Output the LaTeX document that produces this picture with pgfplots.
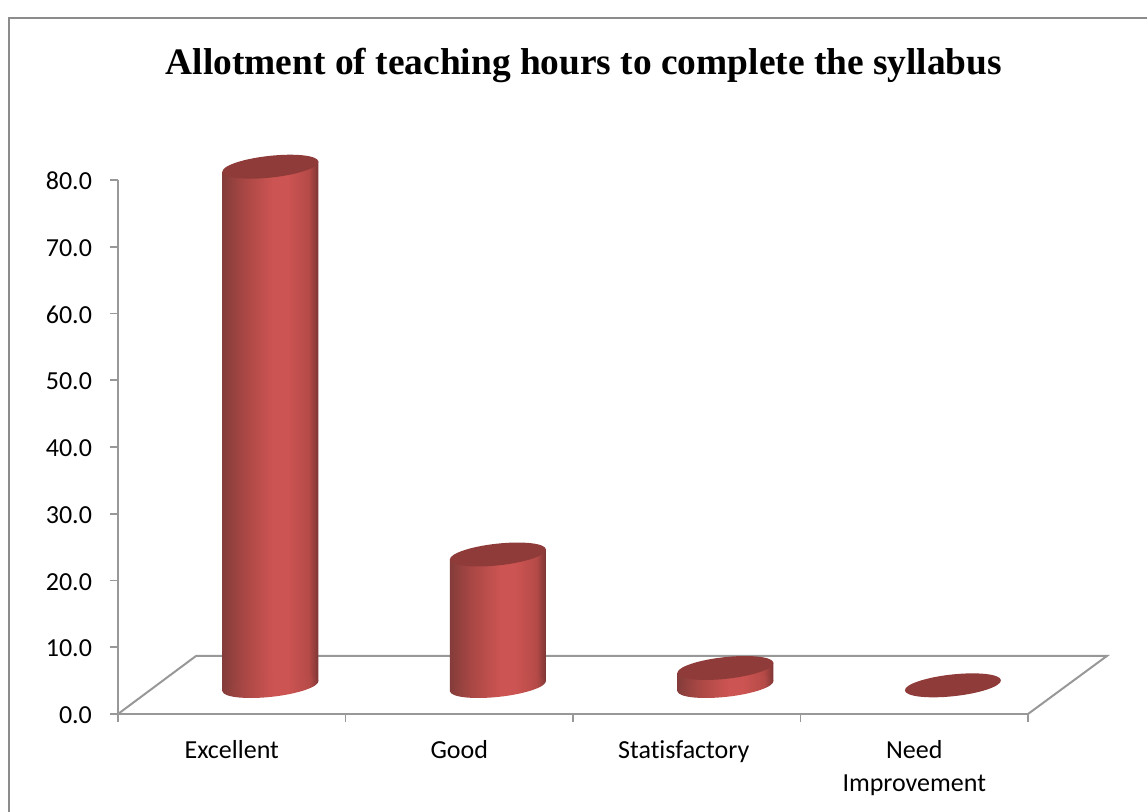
\documentclass[border=0pt]{standalone}
\usepackage{pgfplots}
\pgfplotsset{compat=1.18}
\usepackage{fontspec}
\setmainfont[Ligatures=NoCommon]{Carlito}
\newfontfamily\titlefont{Liberation Serif}
\definecolor{axisgray}{HTML}{989898}
\definecolor{framegray}{HTML}{8C8C8C}
\definecolor{capred}{HTML}{8F3B39}
\definecolor{cA}{HTML}{843C3A}
\definecolor{cB}{HTML}{A84744}
\definecolor{cC}{HTML}{CC5452}
\definecolor{cD}{HTML}{B54A47}
\definecolor{cE}{HTML}{7C3634}
\pgfdeclarehorizontalshading{cylshade}{100bp}{color(0bp)=(cA); color(25bp)=(cA); color(36bp)=(cB); color(51bp)=(cC); color(59bp)=(cC); color(70bp)=(cD); color(75bp)=(cE); color(100bp)=(cE)}
% ellipse caps: half-width 48 px, tilted, 1 px = 0.5 pt
\pgfdeclareplotmark{cylcap}{%
  \pgfpathellipse{\pgfpointorigin}{\pgfqpoint{24pt}{2.6pt}}{\pgfqpoint{-0.6pt}{5.4pt}}%
  \pgfsetfillcolor{capred}\pgfusepathqfill}
\pgfdeclareplotmark{cylbase}{%
  \pgfpathellipse{\pgfpointorigin}{\pgfqpoint{24pt}{2.6pt}}{\pgfqpoint{-0.6pt}{5.4pt}}%
  \pgfshadepath{cylshade}{0}\pgfusepath{discard}}
\begin{document}
\begin{tikzpicture}[x=1pt,y=1pt]
\path[use as bounding box] (0,0) rectangle (573.5,405.5);
\draw[framegray,line width=1pt] (4.5,-5) -- (4.5,396.5) -- (580,396.5);
\node[font=\titlefont\bfseries\fontsize{18.7}{22}\selectfont,anchor=center] at (292,373) {Allotment of teaching hours to complete the syllabus};
\begin{axis}[
  at={(59pt,48.5pt)},anchor=origin,
  scale only axis,width=455pt,height=267pt,
  xmin=0,xmax=4,ymin=0,ymax=80,
  axis x line=bottom,axis y line=left,
  axis line style={-,axisgray,line width=1pt},
  clip=false,
  tick align=outside,
  major tick length=4pt,minor tick length=4pt,
  xtick={0.5,1.5,2.487,3.5},
  xticklabels={Excellent,Good,Statisfactory,{Need\\Improvement}},
  minor xtick={0,1,2,3,4},
  major x tick style={draw=none},
  minor x tick style={draw=axisgray,line width=0.9pt},
  ytick={0,10,...,80},
  y tick style={draw=axisgray,line width=0.9pt},
  tick label style={font=\fontsize{13}{16.5}\selectfont,text=black},
  typeset ticklabels with strut,
  xticklabel style={align=center,anchor=north,yshift=-3pt},
  yticklabel style={xshift=-5.5pt,yshift=-1.5pt},
  /pgf/number format/fixed,/pgf/number format/zerofill,/pgf/number format/precision=1,
  /pgf/number format/assume math mode=true,
]
% floor
\addplot[axisgray,line width=1pt,no markers] coordinates {(0,0)(0.343,8.7)(4.347,8.7)(4,0)};
% cylinder bases (value 0 on the raised floor)
\addplot[only marks,mark=cylbase,yshift=14pt] coordinates {(0.67,0)(1.67,0)(2.67,0)};
% cylinder bodies
\addplot[shade,shading=cylshade,draw=none,no markers,yshift=14pt] coordinates {(0.459,-0.75)(0.459,77.05)(0.881,78.55)(0.881,0.75)};
\addplot[shade,shading=cylshade,draw=none,no markers,yshift=14pt] coordinates {(1.459,-0.75)(1.459,18.95)(1.881,20.45)(1.881,0.75)};
\addplot[shade,shading=cylshade,draw=none,no markers,yshift=14pt] coordinates {(2.459,-0.75)(2.459,1.95)(2.881,3.45)(2.881,0.75)};
% cylinder tops
\addplot[only marks,mark=cylcap,yshift=14pt] coordinates {(0.67,77.8)(1.67,19.7)(2.67,2.7)(3.67,0.1)};
\end{axis}
\end{tikzpicture}
\end{document}
